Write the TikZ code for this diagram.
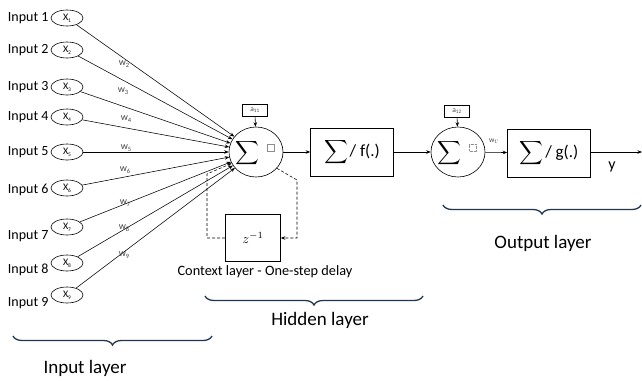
\documentclass[tikz,border=0pt]{standalone}
\usepackage{fontspec}
\setmainfont{Carlito}
\usetikzlibrary{arrows.meta,decorations.pathreplacing,shapes.geometric}
\definecolor{bracecol}{HTML}{22364F}
\definecolor{wgray}{HTML}{444444}
\newcommand{\bigsigma}{\scalebox{1.65}{$\displaystyle\sum$}}

\begin{document}
\begin{tikzpicture}[x=1pt,y=-1pt,
  inp/.style={ellipse, draw, line width=0.6pt, minimum width=32pt, minimum height=16pt, inner sep=0pt,
    font=\fontsize{10}{11}\selectfont},
  lbl/.style={anchor=east, font=\fontsize{14}{16}\selectfont},
  wt/.style={font=\fontsize{10}{11}\selectfont, text=wgray},
  sumc/.style={ellipse, draw, line width=0.6pt, minimum width=54pt, minimum height=50pt, inner sep=0pt},
  blk/.style={draw, line width=0.6pt, rectangle, minimum width=83pt, minimum height=48pt, inner sep=0pt},
  bias/.style={draw, line width=0.5pt, rectangle, minimum width=25pt, minimum height=12pt, inner sep=0pt,
    font=\fontsize{7.5}{8}\selectfont, text=wgray},
  ph/.style={draw=black!45, line width=0.4pt, rectangle, minimum size=7pt, inner sep=0pt},
  bigsum/.style={inner sep=0pt},
  conn/.style={-{Stealth[length=4.5pt,width=3.5pt]}, line width=0.55pt},
  fb/.style={conn, dashed, dash pattern=on 3pt off 2pt},
  brc/.style={decorate, decoration={brace, amplitude=9pt, mirror}, line width=1.3pt, draw=bracecol},
  layer/.style={font=\fontsize{19}{22}\selectfont}
]
\useasboundingbox (0,0) rectangle (642,380);

% input neurons and their labels
\foreach \i/\y/\ly in {1/18/18, 2/50/50, 3/87/87, 4/117/117, 5/152/152, 6/188/190, 7/227/236, 8/263/270, 9/295/303} {
  \node[inp] (x\i) at (67,\y) {X\raisebox{-0.4ex}{\fontsize{5.5}{6}\selectfont\i}};
  \node[lbl] (in\i) at (52,\ly) {Input \i};
}

% hidden summing junction with its bias
\node[sumc] (hs) at (256,152) {};
\node[bigsum] (hsum) at (247,153) {\bigsigma};
\node[ph] (hph) at (271,148) {};
\node[bias] (a11) at (255,110) {a\textsubscript{11}};
\draw[conn] (a11) -- (hs);

% weighted connections from every input
\foreach \i in {1,...,9} { \draw[conn] (x\i) -- (hs); }
\foreach \i/\x/\y in {2/124/64, 3/123/91, 4/126/119, 5/126/148, 6/125/170, 7/125/203, 8/124/228, 9/124/255} {
  \node[wt] (w\i) at (\x,\y) {w\raisebox{-0.3ex}{\fontsize{6.5}{7}\selectfont\i}};
}

% hidden activation block
\node[blk] (fb) at (352,152) {\bigsigma\,{\fontsize{17}{19}\selectfont/ f(.)}};
\draw[conn] (hs) -- (fb);

% context layer (one-step delay)
\node[draw, line width=0.6pt, minimum width=55pt, minimum height=47pt, inner sep=0pt] (zd) at (253,238)
  {\scalebox{1.35}{$z^{-1}$}};
\node[font=\fontsize{14.3}{16}\selectfont] (ctx) at (265,272) {Context layer - One-step delay};
\coordinate (r1) at (297,180);
\coordinate (l1) at (207,238);
\coordinate (l2) at (207,174);
\draw[fb] (hs.-38) -- (r1) |- (zd.east);
\draw[fb] (zd.west) -- (l1) -- (l2) -- (hs.205);

% output summing junction with its bias
\node[sumc] (os) at (458,152) {};
\node[bigsum] (osum) at (449,153) {\bigsigma};
\node[ph, densely dotted] (oph) at (473,148) {};
\node[bias] (a12) at (457,111) {a\textsubscript{12}};
\draw[conn] (a12) -- (os);
\draw[conn] (fb) -- (os);

% output activation block
\node[blk] (gb) at (549,153) {\bigsigma\,{\fontsize{17}{19}\selectfont/ g(.)}};
\node[wt, font=\fontsize{7.5}{8}\selectfont] (w1p) at (494,141) {w\textsubscript{1'}};
\draw[conn] (os) -- (gb);
\coordinate (yend) at (642,152);
\draw[conn] (gb.east |- yend) -- (yend);
\node[font=\fontsize{16}{18}\selectfont] (ylab) at (612,167) {y};

% layer braces
\coordinate (ib1) at (13,336);  \coordinate (ib2) at (212,336);
\coordinate (hb1) at (205,296); \coordinate (hb2) at (423,296);
\coordinate (ob1) at (443,205); \coordinate (ob2) at (641,205);
\draw[brc] (ib1) -- (ib2);
\draw[brc] (hb1) -- (hb2);
\draw[brc] (ob1) -- (ob2);
\node[layer] (il) at (85,368) {Input layer};
\node[layer] (hl) at (320,320) {Hidden layer};
\node[layer] (ol) at (543,243) {Output layer};
\end{tikzpicture}
\end{document}
